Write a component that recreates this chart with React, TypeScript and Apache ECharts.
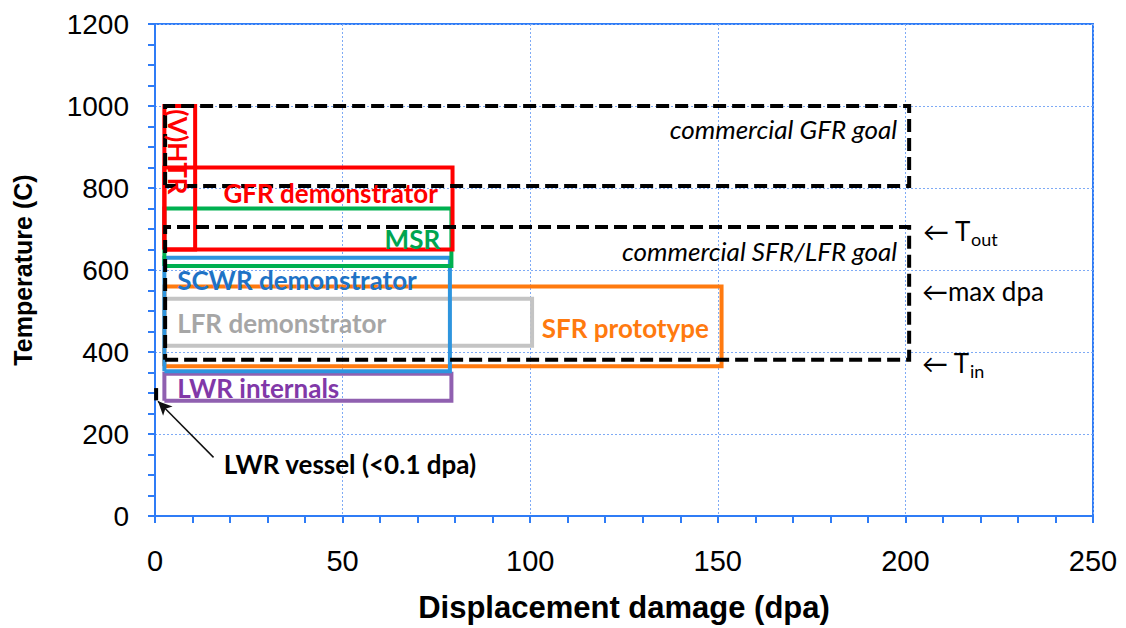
import React, { useEffect, useRef } from "react";
import * as echarts from "echarts";

// Boxes: [xMin, xMax, yMin, yMax] in (dpa, °C)
const vhtrBox = [2.5, 10.7, 650, 1000];
const gfrDemoBox = [2.5, 79.3, 650, 850];
const msrBox = [2.5, 79, 610, 750];
const scwrBox = [2.5, 78.6, 353, 630];
const lfrDemoBox = [2.5, 100.5, 415, 530];
const sfrProtoBox = [2.5, 151, 365, 560];
const lwrInternalsBox = [2.5, 79, 281, 347];
const gfrGoalBox = [2.7, 201, 805, 1000];
const sfrLfrGoalBox = [2.7, 201, 381, 705];
const lwrVessel = [[0.3, 282], [0.3, 312]];
const lwrVesselArrow = [[15.6, 143], [0.8, 280]];

const xTicks = [0, 250, 50];
const yTicks = [0, 1200, 200];

const AXIS_BLUE = "#2f7cf6";
const GRID_BLUE = "#7eaaf5";

function loop(b: number[]) {
  const [x0, x1, y0, y1] = b;
  return [[x0, y0], [x1, y0], [x1, y1], [x0, y1], [x0, y0]];
}

function boxSeries(name: string, b: number[], color: string, dashed = false, z = 2) {
  return {
    name,
    type: "line",
    data: loop(b),
    showSymbol: false,
    symbol: "none",
    z,
    lineStyle: { color, width: 4, type: dashed ? [13, 6] : "solid", cap: "butt", join: "miter" },
    silent: true,
  };
}

const ANN_FONT = "Lato, 'Open Sans', sans-serif";
const FS = 26;

type Ann = { name: string; value: number[]; label: any };
const annotations: Ann[] = [
  { name: "(V)HTR", value: [6.1, 888], label: { color: "#ff0000", fontWeight: "bold", fontSize: FS, rotate: -90, align: "center", verticalAlign: "middle" } },
  { name: "GFR demonstrator", value: [75.4, 788], label: { color: "#ff0000", fontWeight: "bold", fontSize: FS, align: "right", verticalAlign: "middle" } },
  { name: "MSR", value: [76, 676], label: { color: "#00a550", fontWeight: "bold", fontSize: FS, align: "right", verticalAlign: "middle" } },
  { name: "SCWR demonstrator", value: [5.9, 575], label: { color: "#1f73c6", fontWeight: "bold", fontSize: FS, align: "left", verticalAlign: "middle" } },
  { name: "LFR demonstrator", value: [5.9, 470], label: { color: "#a6a6a6", fontWeight: "bold", fontSize: FS, align: "left", verticalAlign: "middle" } },
  { name: "SFR prototype", value: [103.1, 458], label: { color: "#ff7a0f", fontWeight: "bold", fontSize: FS, align: "left", verticalAlign: "middle" } },
  { name: "LWR internals", value: [5.9, 313], label: { color: "#8138a8", fontWeight: "bold", fontSize: FS, align: "left", verticalAlign: "middle" } },
  { name: "commercial GFR goal", value: [197.8, 943], label: { color: "#000", fontStyle: "italic", fontSize: FS, align: "right", verticalAlign: "middle" } },
  { name: "commercial SFR/LFR goal", value: [197.8, 647], label: { color: "#000", fontStyle: "italic", fontSize: FS, align: "right", verticalAlign: "middle" } },
  { name: "LWR vessel (<0.1 dpa)", value: [18.3, 126], label: { color: "#000", fontWeight: "bold", fontSize: FS, align: "left", verticalAlign: "middle" } },
  { name: "←max dpa", value: [204.4, 550], label: { color: "#000", fontSize: FS, align: "left", verticalAlign: "middle" } },
  {
    name: "Tout", value: [204.7, 696],
    label: { formatter: "← T{sub|out}", color: "#000", fontSize: FS, align: "left", verticalAlign: "middle", rich: { sub: { fontSize: 18, padding: [16, 0, 0, 0], color: "#000", fontFamily: ANN_FONT } } },
  },
  {
    name: "Tin", value: [204.4, 373],
    label: { formatter: "← T{sub|in}", color: "#000", fontSize: FS, align: "left", verticalAlign: "middle", rich: { sub: { fontSize: 18, padding: [16, 0, 0, 0], color: "#000", fontFamily: ANN_FONT } } },
  },
];

export default function App() {
  const ref = useRef<HTMLDivElement>(null);
  useEffect(() => {
    if (!ref.current) return;
    const chart = echarts.init(ref.current, null, { renderer: "svg" });
    const option: any = {
      animation: false,
      backgroundColor: "#ffffff",
      grid: { left: 155, right: 33, top: 24, bottom: 109, show: true, borderColor: AXIS_BLUE, borderWidth: 2, backgroundColor: "transparent" },
      xAxis: {
        type: "value",
        min: xTicks[0], max: xTicks[1], interval: xTicks[2],
        name: "Displacement damage (dpa)",
        nameLocation: "middle",
        nameGap: 76,
        nameTextStyle: { fontSize: 31, fontWeight: "bold", color: "#000", fontFamily: "'Liberation Sans', Arial, sans-serif" },
        axisLine: { show: true, onZero: false, lineStyle: { color: AXIS_BLUE, width: 2 } },
        axisTick: { show: true, inside: false, length: 7, lineStyle: { color: AXIS_BLUE, width: 2 } },
        minorTick: { show: true, splitNumber: 5, length: 7, lineStyle: { color: AXIS_BLUE, width: 2 } },
        splitLine: { show: true, lineStyle: { color: GRID_BLUE, type: [2, 2], width: 1 } },
        axisLabel: { fontSize: 29, color: "#000", margin: 30, fontFamily: "'Liberation Sans', Arial, sans-serif" },
      },
      yAxis: {
        type: "value",
        min: yTicks[0], max: yTicks[1], interval: yTicks[2],
        name: "Temperature (C)",
        nameLocation: "middle",
        nameGap: 120,
        nameRotate: 90,
        nameTextStyle: { fontSize: 25, fontWeight: "bold", color: "#000", fontFamily: "'Liberation Sans', Arial, sans-serif" },
        axisLine: { show: true, onZero: false, lineStyle: { color: AXIS_BLUE, width: 2 } },
        axisTick: { show: true, inside: false, length: 7, lineStyle: { color: AXIS_BLUE, width: 2 } },
        minorTick: { show: true, splitNumber: 4, length: 7, lineStyle: { color: AXIS_BLUE, width: 2 } },
        splitLine: { show: true, lineStyle: { color: GRID_BLUE, type: [2, 2], width: 1 } },
        axisLabel: { fontSize: 28, color: "#000", margin: 26, fontFamily: "'Liberation Sans', Arial, sans-serif", formatter: (v: number) => String(v) },
      },
      series: [
        boxSeries("LWR internals", lwrInternalsBox, "#9060b0", false, 2),
        boxSeries("SFR prototype", sfrProtoBox, "#ff7a0f", false, 3),
        boxSeries("LFR demonstrator", lfrDemoBox, "#c4c4c4", false, 4),
        boxSeries("SCWR demonstrator", scwrBox, "#2e95de", false, 5),
        boxSeries("MSR", msrBox, "#00b050", false, 6),
        boxSeries("GFR demonstrator", gfrDemoBox, "#ff0000", false, 7),
        boxSeries("(V)HTR", vhtrBox, "#ff0000", false, 8),
        boxSeries("commercial GFR goal", gfrGoalBox, "#000000", true, 9),
        boxSeries("commercial SFR/LFR goal", sfrLfrGoalBox, "#000000", true, 9),
        {
          name: "LWR vessel",
          type: "line",
          data: lwrVessel,
          symbol: "none",
          z: 10,
          lineStyle: { color: "#000", width: 4, cap: "butt" },
          markLine: {
            silent: true,
            symbol: ["none", "arrow"],
            symbolSize: [10, 14],
            label: { show: false },
            lineStyle: { color: "#111", width: 1.5, type: "solid" },
            data: [[{ coord: lwrVesselArrow[0] }, { coord: lwrVesselArrow[1] }]],
          },
        },
        {
          name: "annotations",
          type: "scatter",
          symbolSize: 0,
          z: 20,
          silent: true,
          itemStyle: { opacity: 1 },
          data: annotations.map((a) => ({
            name: a.name,
            value: a.value,
            itemStyle: { opacity: 1 },
            label: { show: true, position: "inside", formatter: "{b}", fontFamily: ANN_FONT, opacity: 1, ...a.label },
          })),
        },
      ],
    };
    chart.setOption(option);
    return () => chart.dispose();
  }, []);
  return <div ref={ref} style={{ position: "absolute", left: 0, top: 0, width: 1126, height: 628 }} />;
}
